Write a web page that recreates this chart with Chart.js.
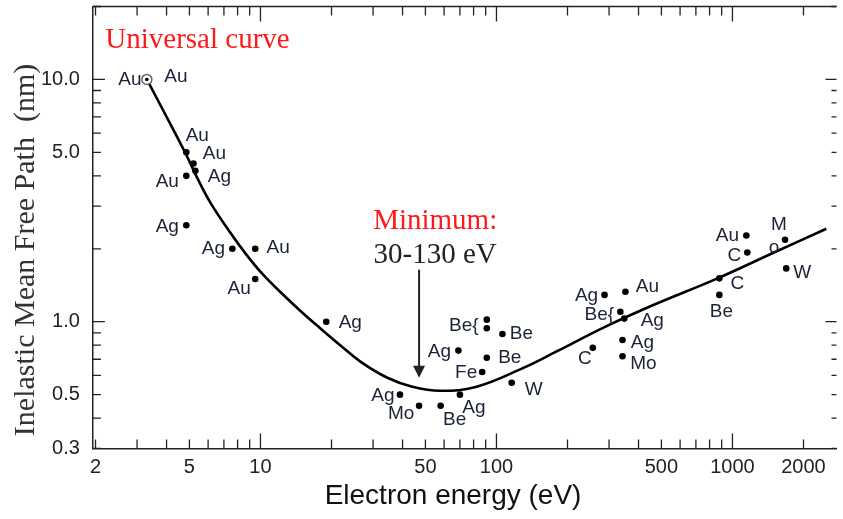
<!DOCTYPE html>
<html>
<head>
<meta charset="utf-8">
<title>Universal curve</title>
<script src="https://cdn.jsdelivr.net/npm/chart.js@4.4.1/dist/chart.umd.min.js"></script>
<style>
  html, body { margin: 0; padding: 0; background: #fff; }
  #wrap { width: 843px; height: 519px; }
</style>
</head>
<body>
<div id="wrap"><canvas id="imfpChart" width="843" height="519"></canvas></div>
<script>
// measured points (eV, nm) and element labels
const energy = [3.3, 3.3, 4.85, 5.2, 5.3, 4.85, 4.85, 7.6, 9.5, 9.5, 19, 39, 47, 58, 70, 87, 91, 69, 91, 91, 106, 116,
  256, 287, 352, 335, 348, 342, 342, 1145, 1156, 880, 880, 1670, 1690];
const imfp = [10.0, 10.0, 5.0, 4.5, 4.2, 4.0, 2.5, 2.0, 2.0, 1.5, 1.0, 0.50, 0.45, 0.45, 0.50, 0.62, 0.71, 0.76, 1.02, 0.94, 0.89, 0.56,
  0.78, 1.29, 1.33, 1.10, 1.03, 0.84, 0.72, 2.27, 1.93, 1.51, 1.29, 2.18, 1.66];
const element = ['Au', 'Au', 'Au', 'Au', 'Ag', 'Au', 'Ag', 'Ag', 'Au', 'Au', 'Ag', 'Ag', 'Mo', 'Be', 'Ag', 'Fe', 'Be', 'Ag', 'Be{', '', 'Be', 'W',
  'C', 'Ag', 'Au', 'Be{', 'Ag', 'Ag', 'Mo', 'Au', 'C', 'C', 'Be', 'M', 'W'];

// universal curve
const curveEnergy = [3.3, 4.1, 4.84, 5.44, 6.17, 7.34, 8.65, 10.1, 12.2, 14.9, 18, 21.9, 26.6, 34.5, 44, 57.6, 82.4, 130, 179, 290, 470, 865, 1500, 2500];
const curveImfp = [10.0, 6.7, 4.9, 3.86, 3.07, 2.38, 1.91, 1.59, 1.32, 1.10, 0.936, 0.796, 0.683, 0.587, 0.539, 0.519, 0.539, 0.645, 0.752, 0.954, 1.18, 1.51, 1.93, 2.42];

// axis ticks
const xTickValues = [2, 3, 4, 5, 6, 7, 8, 9, 10, 20, 30, 40, 50, 60, 70, 80, 90, 100, 200, 300, 400, 500, 600, 700, 800, 900, 1000, 2000];
const xTickLabels = [2, 5, 10, 50, 100, 500, 1000, 2000];
const yTickValues = [0.3, 0.4, 0.5, 0.6, 0.7, 0.8, 0.9, 1, 2, 3, 4, 5, 6, 7, 8, 9, 10, 20];
const yTickLabels = [0.3, 0.5, 1, 5, 10];

// label placement relative to each marker (px)
const labelOffsets = [[-17, 0], [29, -3], [11, -17], [21, -10], [24, 6], [-19, 6], [-19, 1], [-19, 0], [23, -1], [-16, 10],
  [24, 1], [-17, 1], [-18, 8], [14, 14], [14, 13], [-16, 1], [23, 0], [-19, 1], [-23, 6], [0, 0], [19, 0], [22, 7],
  [-8, 11], [-18, 1], [22, -5], [-21, 3], [28, 2], [20, 3], [21, 7], [-19, 0], [-13, 3], [18, 5], [2, 17], [-6, -15], [16, 4]];

const points = energy.map((e, i) => ({ x: e, y: imfp[i] }));
const curve = curveEnergy.map((e, i) => ({ x: e, y: curveImfp[i] }));

const axisColor = '#222';
const labelColor = '#1c2238';

// chart.js counts the tick padding twice and leaves room for the empty end labels
function tightAxis(scale) {
  const pad = scale.options.ticks.padding;
  if (scale.isHorizontal()) scale.height -= pad;
  else scale.width -= pad;
  scale.paddingTop = 0;
  scale.paddingRight = 0;
}

const annotationPlugin = {
  id: 'annotations',
  afterDatasetsDraw(chart) {
    const ctx = chart.ctx;
    const xs = chart.scales.x;
    const ys = chart.scales.y;
    const area = chart.chartArea;
    ctx.save();

    // frame: top line and inward ticks on all four sides
    ctx.strokeStyle = axisColor;
    ctx.lineWidth = 1.5;
    ctx.beginPath();
    ctx.moveTo(area.left, area.top);
    ctx.lineTo(area.right, area.top);
    ctx.stroke();
    ctx.lineWidth = 1.3;
    xTickValues.forEach(v => {
      const px = xs.getPixelForValue(v);
      const major = Number.isInteger(Math.log10(v));
      ctx.beginPath();
      ctx.moveTo(px, area.bottom);
      ctx.lineTo(px, area.bottom - (major ? 15 : 9));
      ctx.moveTo(px, area.top);
      ctx.lineTo(px, area.top + (major ? 15 : 9));
      ctx.stroke();
    });
    yTickValues.forEach(v => {
      const py = ys.getPixelForValue(v);
      const major = Math.abs(Math.log10(v) - Math.round(Math.log10(v))) < 1e-9;
      ctx.beginPath();
      ctx.moveTo(area.left, py);
      ctx.lineTo(area.left + (major ? 12 : 8), py);
      ctx.moveTo(area.right, py);
      ctx.lineTo(area.right - (major ? 11 : 5), py);
      ctx.stroke();
    });

    // element labels next to the markers
    const meta = chart.getDatasetMeta(1);
    ctx.fillStyle = labelColor;
    ctx.font = '19px "Liberation Sans", Arial, sans-serif';
    ctx.textAlign = 'center';
    ctx.textBaseline = 'middle';
    meta.data.forEach((pt, i) => {
      if (!element[i]) return;
      const off = labelOffsets[i];
      ctx.fillText(element[i], pt.x + off[0], pt.y + off[1]);
    });
    const m = meta.data[33];
    ctx.fillText('o', m.x - 11, m.y + 8);

    // titles inside the plot
    ctx.textAlign = 'left';
    ctx.font = '29px "Liberation Serif", "Times New Roman", serif';
    ctx.fillStyle = '#ff1a1a';
    ctx.fillText('Universal curve', xs.getPixelForValue(2.2), ys.getPixelForValue(14.5));
    ctx.textAlign = 'center';
    ctx.fillText('Minimum:', xs.getPixelForValue(55), ys.getPixelForValue(2.6));
    ctx.fillStyle = '#222';
    ctx.fillText('30-130 eV', xs.getPixelForValue(55), ys.getPixelForValue(1.88));

    // arrow to the minimum
    const ax = xs.getPixelForValue(47);
    const ay0 = ys.getPixelForValue(1.64);
    const ay1 = ys.getPixelForValue(0.587);
    ctx.strokeStyle = '#222';
    ctx.lineWidth = 2;
    ctx.beginPath();
    ctx.moveTo(ax, ay0);
    ctx.lineTo(ax, ay1 - 10);
    ctx.stroke();
    ctx.fillStyle = '#222';
    ctx.beginPath();
    ctx.moveTo(ax - 6, ay1 - 12);
    ctx.lineTo(ax + 6, ay1 - 12);
    ctx.lineTo(ax, ay1);
    ctx.closePath();
    ctx.fill();
    ctx.restore();
  }
};

new Chart(document.getElementById('imfpChart').getContext('2d'), {
  type: 'scatter',
  data: {
    datasets: [
      {
        type: 'line',
        label: 'Universal curve',
        data: curve,
        borderColor: '#000',
        borderWidth: 2.6,
        pointRadius: 0,
        tension: 0.4,
        fill: false,
        order: 3
      },
      {
        label: 'Measurements',
        data: points,
        backgroundColor: '#000',
        borderColor: '#000',
        pointRadius: ctx => (ctx.dataIndex < 2 ? 1.6 : 3.3),
        borderWidth: 0,
        order: 1
      },
      {
        label: 'Au (ring)',
        data: [points[0]],
        backgroundColor: '#fff',
        borderColor: '#666',
        borderWidth: 1.5,
        pointRadius: 5,
        order: 2
      }
    ]
  },
  options: {
    responsive: false,
    animation: false,
    layout: { padding: { top: 5, right: -3, bottom: 6, left: 8 } },
    plugins: {
      legend: { display: false },
      tooltip: { enabled: false }
    },
    scales: {
      x: {
        type: 'logarithmic',
        min: 1.95,
        max: 2760,
        afterBuildTicks: scale => { scale.ticks = xTickValues.map(v => ({ value: v })); },
        afterFit: tightAxis,
        grid: { display: true, drawOnChartArea: false, drawTicks: false },
        border: { display: true, color: axisColor, width: 1.5 },
        ticks: {
          autoSkip: false,
          maxRotation: 0,
          padding: 7,
          color: '#222',
          font: { family: '"Liberation Sans", Arial, sans-serif', size: 20, lineHeight: 1.2 },
          callback: v => (xTickLabels.includes(v) ? String(v) : '')
        },
        title: {
          display: true,
          text: 'Electron energy (eV)   ',
          color: '#111',
          padding: { top: 0, bottom: 0 },
          font: { family: '"Liberation Sans", Arial, sans-serif', size: 28, lineHeight: 1.2 }
        }
      },
      y: {
        type: 'logarithmic',
        min: 0.3,
        max: 20,
        afterBuildTicks: scale => { scale.ticks = yTickValues.map(v => ({ value: v })); },
        afterFit: tightAxis,
        grid: { display: true, drawOnChartArea: false, drawTicks: false },
        border: { display: true, color: axisColor, width: 1.5 },
        ticks: {
          autoSkip: false,
          padding: 13,
          color: '#222',
          font: { family: '"Liberation Sans", Arial, sans-serif', size: 20 },
          callback: v => (yTickLabels.some(t => Math.abs(t - v) < 1e-9) ? v.toFixed(1) : '')
        },
        title: {
          display: true,
          text: 'Inelastic Mean Free Path  (nm)      ',
          color: '#333',
          padding: { top: 3, bottom: 0 },
          font: { family: '"Liberation Serif", "Times New Roman", serif', size: 30, lineHeight: 1 }
        }
      }
    }
  },
  plugins: [annotationPlugin]
});
</script>
</body>
</html>
